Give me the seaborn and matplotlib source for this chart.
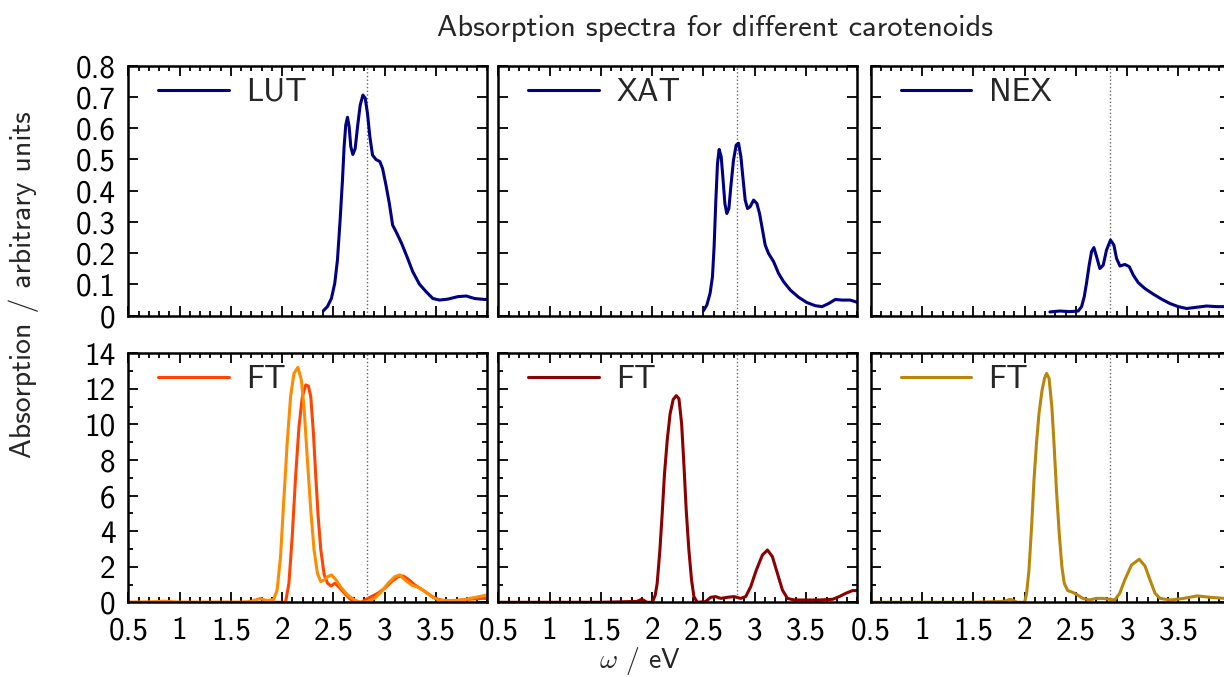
import numpy as np
import matplotlib
matplotlib.use("Agg")
import matplotlib.pyplot as plt
import seaborn as sns
from matplotlib.ticker import MultipleLocator, FuncFormatter

# ---------------- data ----------------
lut_x = [2.402, 2.441, 2.480, 2.513, 2.539, 2.565, 2.588, 2.604, 2.620, 2.637, 2.653, 2.669,
         2.689, 2.712, 2.735, 2.761, 2.787, 2.810, 2.832, 2.855, 2.881, 2.914, 2.953, 2.979,
         3.012, 3.045, 3.077, 3.119, 3.165, 3.224, 3.273, 3.338, 3.403, 3.469, 3.534, 3.615,
         3.713, 3.795, 3.876, 3.974, 4.0]
lut_y = [0.016, 0.029, 0.055, 0.104, 0.178, 0.306, 0.434, 0.541, 0.610, 0.635, 0.605, 0.541,
         0.516, 0.535, 0.605, 0.674, 0.706, 0.696, 0.647, 0.573, 0.514, 0.500, 0.493, 0.471,
         0.418, 0.359, 0.290, 0.263, 0.231, 0.183, 0.141, 0.101, 0.077, 0.055, 0.050, 0.053,
         0.061, 0.063, 0.055, 0.052, 0.052]

xat_x = [2.500, 2.533, 2.565, 2.588, 2.604, 2.621, 2.637, 2.653, 2.673, 2.689, 2.709, 2.728,
         2.748, 2.767, 2.793, 2.819, 2.842, 2.865, 2.884, 2.907, 2.930, 2.956, 2.989, 3.021,
         3.047, 3.070, 3.102, 3.135, 3.184, 3.233, 3.281, 3.347, 3.428, 3.509, 3.591, 3.656,
         3.721, 3.786, 3.851, 3.932, 3.998]
xat_y = [0.016, 0.034, 0.072, 0.125, 0.221, 0.370, 0.487, 0.532, 0.509, 0.445, 0.359, 0.327,
         0.343, 0.413, 0.498, 0.546, 0.552, 0.509, 0.445, 0.370, 0.343, 0.349, 0.370, 0.359,
         0.327, 0.285, 0.226, 0.199, 0.173, 0.135, 0.109, 0.082, 0.059, 0.042, 0.032, 0.029,
         0.039, 0.052, 0.050, 0.050, 0.043]

nex_x = [2.247, 2.344, 2.442, 2.523, 2.556, 2.582, 2.604, 2.630, 2.653, 2.676, 2.702, 2.734,
         2.767, 2.799, 2.838, 2.871, 2.897, 2.930, 2.978, 3.021, 3.060, 3.108, 3.173, 3.255,
         3.336, 3.417, 3.499, 3.580, 3.677, 3.775, 3.872, 3.944, 4.0]
nex_y = [0.012, 0.015, 0.013, 0.015, 0.029, 0.061, 0.104, 0.162, 0.205, 0.218, 0.189, 0.151,
         0.162, 0.210, 0.242, 0.226, 0.183, 0.159, 0.164, 0.157, 0.130, 0.106, 0.087, 0.069,
         0.053, 0.039, 0.029, 0.023, 0.027, 0.031, 0.029, 0.029, 0.028]

ft_lut_a_x = [0.5, 1.0, 1.5, 1.9, 2.033, 2.066, 2.098, 2.131, 2.164, 2.197, 2.230, 2.256, 2.279,
              2.305, 2.328, 2.351, 2.377, 2.41, 2.443, 2.475, 2.515, 2.557, 2.607, 2.656, 2.705,
              2.77, 2.82, 2.869, 2.934, 3.0, 3.066, 3.131, 3.18, 3.23, 3.295, 3.361, 3.426,
              3.492, 3.574, 3.689, 3.82, 3.951, 4.0]
ft_lut_a_y = [0.0, 0.0, 0.0, 0.0, 0.0, 1.07, 3.69, 7.06, 9.87, 11.56, 12.22, 12.16, 11.56,
              9.5, 7.06, 4.82, 2.94, 1.54, 1.07, 0.92, 1.07, 0.84, 0.51, 0.22, 0.0,
              0.0, 0.17, 0.32, 0.51, 0.79, 1.16, 1.44, 1.48, 1.29, 0.97, 0.73, 0.47,
              0.22, 0.09, 0.09, 0.17, 0.22, 0.22]

ft_lut_b_x = [0.5, 0.7, 0.85, 1.0, 1.2, 1.6, 1.70, 1.787, 1.852, 1.918, 1.951, 1.984, 2.016,
              2.049, 2.082, 2.115, 2.154, 2.187, 2.213, 2.246, 2.279, 2.311, 2.344, 2.377,
              2.41, 2.443, 2.482, 2.525, 2.574, 2.639, 2.705, 2.77, 2.836, 2.902, 2.967,
              3.033, 3.098, 3.148, 3.197, 3.262, 3.328, 3.393, 3.459, 3.525, 3.623, 3.754,
              3.885, 4.0]
ft_lut_b_y = [0.0, 0.02, 0.06, 0.0, 0.0, 0.0, 0.05, 0.22, 0.09, 0.17, 0.69, 2.57, 5.75,
              8.94, 11.56, 12.87, 13.21, 12.50, 11.0, 8.0, 5.19, 2.94, 1.63, 1.16,
              1.26, 1.44, 1.54, 1.26, 0.84, 0.41, 0.13, 0.0, 0.04, 0.22, 0.60,
              1.07, 1.44, 1.54, 1.26, 0.97, 0.84, 0.60, 0.32, 0.13, 0.09, 0.13,
              0.28, 0.41]

ft_xat_x = [0.5, 1.0, 1.5, 1.85, 1.90, 1.95, 2.0, 2.03, 2.049, 2.075, 2.098, 2.12, 2.147, 2.175,
            2.205, 2.235, 2.261, 2.287, 2.309, 2.332, 2.358, 2.384, 2.407, 2.44, 2.521, 2.570,
            2.619, 2.668, 2.733, 2.798, 2.863, 2.912, 2.961, 3.016, 3.075, 3.124, 3.172,
            3.221, 3.270, 3.319, 3.384, 3.498, 3.628, 3.759, 3.824, 3.889, 3.954, 4.0]
ft_xat_y = [0.0, 0.0, 0.0, 0.05, 0.17, 0.0, 0.0, 0.4, 1.07, 2.9, 5.0, 7.2, 9.12, 10.6,
            11.4, 11.62, 11.45, 10.06, 7.81, 5.19, 2.94, 1.26, 0.32, 0.0, 0.04, 0.28,
            0.32, 0.22, 0.28, 0.32, 0.22, 0.32, 0.88, 1.82, 2.66, 2.94, 2.57,
            1.63, 0.69, 0.22, 0.13, 0.13, 0.13, 0.17, 0.32, 0.51, 0.66, 0.66]

ft_nex_x = [0.5, 1.0, 1.5, 1.80, 1.86, 1.93, 2.0, 2.02, 2.043, 2.068, 2.092, 2.117, 2.141, 2.17,
            2.195, 2.215, 2.239, 2.266, 2.289, 2.311, 2.338, 2.364, 2.387, 2.420, 2.469, 2.518,
            2.567, 2.633, 2.698, 2.764, 2.830, 2.879, 2.928, 2.977, 3.043, 3.118, 3.174,
            3.223, 3.272, 3.321, 3.420, 3.551, 3.682, 3.813, 3.951, 4.0]
ft_nex_y = [0.0, 0.0, 0.0, 0.05, 0.17, 0.0, 0.0, 0.5, 1.82, 4.2, 6.87, 9.0, 10.62, 11.9,
            12.6, 12.87, 12.59, 11.0, 8.75, 6.31, 3.88, 2.0, 1.07, 0.66, 0.56, 0.41,
            0.22, 0.13, 0.22, 0.22, 0.17, 0.13, 0.51, 1.26, 2.10, 2.42, 2.04,
            1.26, 0.51, 0.22, 0.13, 0.22, 0.36, 0.28, 0.22, 0.22]

top_labels = ["LUT", "XAT", "NEX"]
ref_energy = 2.83
x_ticks = [0.5, 1.0, 1.5, 2.0, 2.5, 3.0, 3.5]

# ---------------- style ----------------
sns.set_style("ticks")
plt.rcParams["font.family"] = ["cmss10", "DejaVu Sans"]
plt.rcParams["mathtext.fontset"] = "cm"
plt.rcParams["axes.unicode_minus"] = False
plt.rcParams["axes.formatter.use_mathtext"] = True

fig = plt.figure(figsize=(12.24, 6.77), dpi=100)
W, H = 1224.0, 677.0
col_left = [128.3, 498.3, 870.7]
col_w = 359.0
rows = [(65.7, 250.0), (353.3, 249.0)]

axes = []
for r, (top, h) in enumerate(rows):
    row = []
    for c, left in enumerate(col_left):
        ax = fig.add_axes([left / W, 1 - (top + h) / H, col_w / W, h / H])
        row.append(ax)
    axes.append(row)

navy = "#000080"
lw = 2.2
top_data = [(lut_x, lut_y), (xat_x, xat_y), (nex_x, nex_y)]
for c in range(3):
    ax = axes[0][c]
    sns.lineplot(x=top_data[c][0], y=top_data[c][1], ax=ax, color=navy, lw=lw,
                 label=top_labels[c])
    ax.set_ylim(0, 0.8)

ax = axes[1][0]
sns.lineplot(x=ft_lut_a_x, y=ft_lut_a_y, ax=ax, color="#FF4500", lw=lw, label="FT")
sns.lineplot(x=ft_lut_b_x, y=ft_lut_b_y, ax=ax, color="#FF8C00", lw=lw)
sns.lineplot(x=ft_xat_x, y=ft_xat_y, ax=axes[1][1], color="#8B0000", lw=lw, label="FT")
sns.lineplot(x=ft_nex_x, y=ft_nex_y, ax=axes[1][2], color="#B8860B", lw=lw, label="FT")

def fmt(v, pos):
    return "%g" % v

for r in range(2):
    for c in range(3):
        ax = axes[r][c]
        ax.set_xlim(0.5, 4.0)
        if r == 1:
            ax.set_ylim(0, 14)
        ax.axvline(ref_energy, color="#666666", ls=":", lw=1.0, zorder=0)
        ax.set_xticks(x_ticks)
        ax.xaxis.set_minor_locator(MultipleLocator(0.1))
        if r == 0:
            ax.yaxis.set_major_locator(MultipleLocator(0.1))
        else:
            ax.yaxis.set_major_locator(MultipleLocator(2))
            ax.yaxis.set_minor_locator(MultipleLocator(1))
        ax.xaxis.set_major_formatter(FuncFormatter(fmt))
        ax.yaxis.set_major_formatter(FuncFormatter(fmt))
        ax.tick_params(which="both", direction="in", top=True, right=True,
                       labelsize=22.5, width=1.3, colors="black")
        ax.tick_params(which="major", length=7.5)
        ax.tick_params(which="minor", length=3.8)
        ax.tick_params(axis="x", pad=10)
        ax.tick_params(axis="y", pad=9)
        if r == 0:
            ax.tick_params(axis="x", labelbottom=False)
        if c > 0:
            ax.tick_params(axis="y", labelleft=False)
        for s in ax.spines.values():
            s.set_linewidth(1.8)
            s.set_color("black")
        ax.set_xlabel("")
        ax.set_ylabel("")
        ax.legend(loc="upper left", frameon=False, fontsize=23, handlelength=2.2,
                  handletextpad=0.55, borderaxespad=0, borderpad=0.3,
                  bbox_to_anchor=(0.057, 0.99))

fig.text(715 / W, 1 - 28 / H, "Absorption spectra for different carotenoids",
         ha="center", va="center", fontsize=22)
fig.text(24 / W, 1 - 285 / H, "Absorption / arbitrary units", rotation=90,
         ha="center", va="center", fontsize=21.5)
fig.text(640 / W, 1 - 661 / H, r"$\omega$ / eV", ha="center", va="center", fontsize=20)

fig.savefig("out.png", dpi=100)
